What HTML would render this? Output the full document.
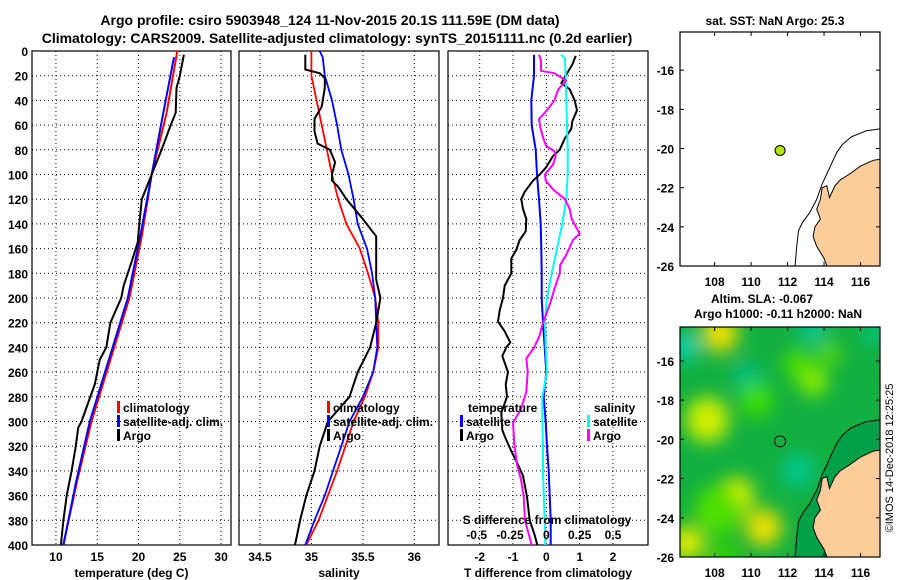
<!DOCTYPE html>
<html><head><meta charset="utf-8"><title>Argo profile</title>
<style>
html,body{margin:0;padding:0;background:#fff;}
svg{display:block;font-family:"Liberation Sans",Arial,sans-serif;font-weight:bold;}
</style></head>
<body>
<svg id="fig" width="900" height="580" viewBox="0 0 900 580" xmlns="http://www.w3.org/2000/svg">
<defs>
<filter id="blur" x="-20%" y="-20%" width="140%" height="140%"><feGaussianBlur stdDeviation="9"/></filter>
<clipPath id="clipMap2"><rect x="680" y="327" width="200" height="230"/></clipPath>
<clipPath id="clipMap1"><rect x="680" y="32" width="200" height="234"/></clipPath>
</defs>
<text x="330" y="25" font-size="14" text-anchor="middle">Argo profile: csiro 5903948_124 11-Nov-2015 20.1S 111.59E (DM data)</text>
<text x="337" y="43" font-size="14" text-anchor="middle">Climatology: CARS2009. Satellite-adjusted climatology: synTS_20151111.nc (0.2d earlier)</text>
<g id="p1"></g>
<g id="p2"></g>
<g id="p3"></g>
<g id="m1"></g>
<g id="m2"></g>
<text transform="translate(893,458) rotate(-90)" font-size="11" font-weight="normal" text-anchor="middle">©IMOS 14-Dec-2018 12:25:25</text>
</svg>
<script>
// ---- data ----
const depthTicks = [0,20,40,60,80,100,120,140,160,180,200,220,240,260,280,300,320,340,360,380,400];
const tempTicks = [10,15,20,25,30];
const salTicks = [34.5,35,35.5,36];
const salTickLabels = ["34.5","35","35.5","36"];
const dTTicks = [-2,-1,0,1,2];
const dSTicks = [-0.5,-0.25,0,0.25,0.5];
const dSTickLabels = ["-0.5","-0.25","0","0.25","0.5"];

const tClimDepth = [0,50,100,150,200,250,300,350,400];
const tClimVal = [24.7,23.4,21.6,20.4,18.9,16.6,14.3,12.5,10.9];
const tSatDepth = [5,50,100,150,200,250,300,350,400];
const tSatVal = [24.3,23.0,21.6,20.2,18.7,16.4,14.1,12.4,10.9];
const tArgoDepth = [3,20,30,50,60,80,100,110,120,140,155,170,190,200,220,240,250,270,285,300,305,320,340,360,380,400];
const tArgoVal = [25.5,25.0,24.6,24.5,23.9,22.8,21.6,21.0,20.4,20.1,19.9,19.2,18.2,17.9,16.6,16.1,15.3,14.7,13.9,13.1,12.7,12.4,11.9,11.3,10.9,10.6];

const sClimDepth = [0,20,40,60,80,100,120,140,160,180,200,220,240,260,280,300,320,340,360,380,400];
const sClimVal = [35.0,35.0,35.05,35.1,35.15,35.2,35.26,35.34,35.47,35.55,35.62,35.65,35.65,35.6,35.52,35.41,35.33,35.25,35.16,35.07,34.95];
const sSatDepth = [0,5,20,40,60,80,100,120,140,160,180,200,220,240,260,280,300,320,340,360,380,400];
const sSatVal = [35.08,35.11,35.13,35.2,35.25,35.29,35.36,35.41,35.45,35.54,35.59,35.62,35.63,35.64,35.6,35.5,35.37,35.29,35.21,35.13,35.03,34.94];
const sArgoDepth = [3,15,18,22,30,45,55,65,75,80,90,100,105,110,120,135,150,165,185,200,220,240,260,280,300,320,340,360,380,400];
const sArgoVal = [34.94,34.94,35.08,35.13,35.13,35.1,35.03,35.03,35.06,35.18,35.23,35.2,35.2,35.26,35.34,35.49,35.63,35.63,35.63,35.67,35.63,35.57,35.45,35.37,35.16,35.08,35.03,34.95,34.89,34.84];

const dTSatDepth = [3,20,40,60,80,100,120,140,160,180,200,220,240,260,280,300,320,340,360,380,400];
const dTSatVal = [-0.37,-0.37,-0.45,-0.44,-0.32,-0.28,-0.22,-0.17,-0.15,-0.14,-0.14,-0.10,-0.05,0.0,-0.08,-0.02,0.02,0.07,0.10,0.13,0.13];
const dTArgoDepth = [4,11,20,26,31,40,48,57,63,71,80,85,94,100,105,114,120,128,136,146,153,161,168,180,190,200,210,219,227,236,240,247,260,270,280,293,307,315,324,335,344,361,380,392,400];
const dTArgoVal = [0.88,0.78,0.58,0.45,0.70,0.85,0.92,0.78,0.75,0.55,0.40,0.20,0.0,-0.20,-0.40,-0.65,-0.75,-0.70,-0.60,-0.62,-0.80,-0.90,-1.05,-1.05,-1.25,-1.30,-1.40,-1.45,-1.25,-1.08,-1.20,-1.32,-1.15,-1.22,-1.18,-1.35,-1.32,-1.20,-1.05,-0.85,-0.70,-0.58,-0.50,-0.35,-0.27];
const dSSatDepth = [3,6,20,40,60,80,100,120,140,160,180,200,220,240,260,280,300,320,340,360,380,400];
const dSSatVal = [0.11,0.14,0.145,0.15,0.155,0.16,0.16,0.15,0.12,0.08,0.04,0.005,-0.01,-0.005,0.005,-0.03,-0.03,-0.025,-0.025,-0.02,-0.012,-0.008];
const dSArgoDepth = [3,8,16,18,24,31,40,48,55,62,70,77,81,85,92,100,105,112,120,128,136,148,153,165,173,180,193,204,220,230,240,249,260,276,290,301,318,335,347,361,380,392,400];
const dSArgoVal = [-0.055,-0.04,-0.04,0.06,0.15,0.09,0.06,0.005,-0.055,-0.045,-0.025,0.0,0.06,0.07,0.05,-0.01,-0.005,0.05,0.14,0.175,0.19,0.25,0.2,0.15,0.105,0.1,0.06,0.03,-0.025,-0.05,-0.09,-0.15,-0.14,-0.15,-0.19,-0.25,-0.24,-0.22,-0.19,-0.17,-0.16,-0.13,-0.11];

const lonTicks = [108,110,112,114,116];
const latTicks = [-16,-18,-20,-22,-24,-26];
const argoLon = [111.59];
const argoLat = [-20.1];

// ---- helpers ----
const NS = "http://www.w3.org/2000/svg";
function mk(parent, tag, attrs, text){
  const e = document.createElementNS(NS, tag);
  for (const k in attrs) e.setAttribute(k, attrs[k]);
  if (text !== undefined) e.textContent = text;
  parent.appendChild(e);
  return e;
}
const Y0 = 51, Y1 = 545;
const yD = d => Y0 + d * (Y1 - Y0) / 400;

function panel(g, x0, x1, dom, ticks, tickLabels, xTitle, showY){
  const xs = v => x0 + (v - dom[0]) / (dom[1] - dom[0]) * (x1 - x0);
  for (let i = 0; i < ticks.length; i++) {
    const gl = mk(g, 'line', {x1: xs(ticks[i]), x2: xs(ticks[i]), y1: Y0, y2: Y1, stroke: '#000', 'stroke-width': 1, 'stroke-dasharray': '1,3'});
    
    
    if (tickLabels) {
      const t = mk(g, 'text', {x: xs(ticks[i]), y: 561, 'font-size': 12, 'text-anchor': 'middle'}, tickLabels[i]);
      
      
    }
  }
  for (const d of depthTicks) {
    if (d > 0 && d < 400) {
      const gl = mk(g, 'line', {x1: x0, x2: x1, y1: yD(d), y2: yD(d), stroke: '#000', 'stroke-width': 1, 'stroke-dasharray': '1,3'});
      
      
    }
    if (showY) {
      const t = mk(g, 'text', {x: 28, y: yD(d) + 5, 'font-size': 12, 'text-anchor': 'end'}, String(d));
      
      
    }
  }
  const fr = mk(g, 'rect', {x: x0, y: Y0, width: x1 - x0, height: Y1 - Y0, fill: 'none', stroke: '#000', 'stroke-width': 1.2});
  
  
  if (xTitle) {
    const t = mk(g, 'text', {x: (x0 + x1) / 2, y: 577, 'font-size': 12, 'text-anchor': 'middle'}, xTitle);
    
    
  }
  return xs;
}
function line(g, xs, depths, vals, color, w, name){
  const pts = depths.map((d, i) => xs(vals[i]).toFixed(1) + ',' + yD(d).toFixed(1)).join(' ');
  const p = mk(g, 'polyline', {points: pts, fill: 'none', stroke: color, 'stroke-width': w, 'stroke-linejoin': 'round'});
  
  
}
function legend(g, x, y, color, label){
  const b = mk(g, 'rect', {x: x, y: y - 11, width: 3, height: 12, fill: color});
  
  
  const t = mk(g, 'text', {x: x + 6, y: y, 'font-size': 12}, label);
  
  
}

// ---- panel 1: temperature ----
const p1 = document.getElementById('p1');
const xT = panel(p1, 32, 231, [7.1, 31.2], tempTicks, tempTicks.map(String), 'temperature (deg C)', true);
line(p1, xT, tClimDepth, tClimVal, '#ff0000', 2, 'climatology-temperature-line');
line(p1, xT, tSatDepth, tSatVal, '#0000ff', 2, 'satellite-temperature-line');
line(p1, xT, tArgoDepth, tArgoVal, '#000000', 2, 'argo-temperature-line');
legend(p1, 117, 412, '#ff0000', 'climatology');
legend(p1, 117, 426, '#0000ff', 'satellite-adj. clim.');
legend(p1, 117, 440, '#000000', 'Argo');

// ---- panel 2: salinity ----
const p2 = document.getElementById('p2');
const xS = panel(p2, 239, 439, [34.296, 36.24], salTicks, salTickLabels, 'salinity', false);
line(p2, xS, sClimDepth, sClimVal, '#ff0000', 1.8, 'climatology-salinity-line');
line(p2, xS, sSatDepth, sSatVal, '#0000ff', 1.8, 'satellite-salinity-line');
line(p2, xS, sArgoDepth, sArgoVal, '#000000', 2, 'argo-salinity-line');
legend(p2, 327, 412, '#ff0000', 'climatology');
legend(p2, 327, 426, '#0000ff', 'satellite-adj. clim.');
legend(p2, 327, 440, '#000000', 'Argo');

// ---- panel 3: differences ----
const p3 = document.getElementById('p3');
const xDT = panel(p3, 448, 648, [-2.95, 3.05], dTTicks, dTTicks.map(String), 'T difference from climatology', false);
const xDS = v => xDT(v * 4);
line(p3, xDT, dTSatDepth, dTSatVal, '#0000ff', 2, 'satellite-t-diff-line');
line(p3, xDT, dTArgoDepth, dTArgoVal, '#000000', 2, 'argo-t-diff-line');
line(p3, xDS, dSSatDepth, dSSatVal, '#00ffff', 2, 'satellite-s-diff-line');
line(p3, xDS, dSArgoDepth, dSArgoVal, '#ff00ff', 2, 'argo-s-diff-line');
for (let i = 0; i < dSTicks.length; i++) {
  const t = mk(p3, 'text', {x: xDS(dSTicks[i]) - (dSTicks[i] < 0 ? 3 : 0), y: 539, 'font-size': 12, 'text-anchor': 'middle'}, dSTickLabels[i]);
  
  
}
{
  const t = mk(p3, 'text', {x: 547, y: 524, 'font-size': 12, 'text-anchor': 'middle'}, 'S difference from climatology');
  
  
  const t2 = mk(p3, 'text', {x: 468, y: 412, 'font-size': 12}, 'temperature');
  
  
  const t3 = mk(p3, 'text', {x: 594, y: 412, 'font-size': 12}, 'salinity');
  
  
}
legend(p3, 460, 426, '#0000ff', 'satellite');
legend(p3, 460, 440, '#000000', 'Argo');
legend(p3, 587, 426, '#00ffff', 'satellite');
legend(p3, 587, 440, '#ff00ff', 'Argo');

// ---- maps ----
const MX0 = 680, MX1 = 880, LON0 = 106.1, LON1 = 117.07;
const lonX = lo => MX0 + (lo - LON0) / (LON1 - LON0) * (MX1 - MX0);
const coast = [[117.07,-20.55],[116.7,-20.6],[116,-20.9],[115.4,-21.3],[114.9,-21.6],[114.6,-21.9],[114.3,-22.5],[114.15,-21.9],[113.9,-22.0],[113.8,-22.6],[113.6,-23.1],[113.8,-23.6],[113.5,-24.0],[113.4,-24.5],[113.6,-25.0],[114.0,-25.6],[114.2,-26.1],[117.07,-26.1]];
const shelf = [[117.07,-19.0],[116.3,-19.1],[115.5,-19.4],[115.0,-19.8],[114.7,-20.2],[114.4,-20.8],[114.2,-21.2],[113.9,-21.8],[113.6,-22.6],[113.2,-23.3],[112.8,-23.8],[112.6,-24.2],[112.5,-25.0],[112.4,-26.1]];

function map(g, y0, y1, lat0, lat1, title, bg){
  const latY = la => y0 + (lat1 - la) / (lat1 - lat0) * (y1 - y0);
  const clip = y0 < 100 ? 'url(#clipMap1)' : 'url(#clipMap2)';
  const inner = mk(g, 'g', {'clip-path': clip});
  
  
  if (bg) bg(inner, latY);
  const shelfPts = shelf.map(p => lonX(p[0]).toFixed(1) + ',' + latY(p[1]).toFixed(1));
  const sh = mk(inner, 'polyline', {points: shelfPts.join(' '), fill: 'none', stroke: '#000', 'stroke-width': 1});
  
  
  const land = mk(inner, 'polygon', {points: coast.map(p => lonX(p[0]).toFixed(1) + ',' + latY(p[1]).toFixed(1)).join(' '), fill: '#fccc9a', stroke: '#000', 'stroke-width': 1});
  
  
  const fr = mk(g, 'rect', {x: MX0, y: y0, width: MX1 - MX0, height: y1 - y0, fill: 'none', stroke: '#000', 'stroke-width': 1.2});
  
  
  for (const lo of lonTicks) {
    mk(g, 'line', {x1: lonX(lo), x2: lonX(lo), y1: y1, y2: y1 - 4, stroke: '#000'});
    mk(g, 'line', {x1: lonX(lo), x2: lonX(lo), y1: y0, y2: y0 + 4, stroke: '#000'});
    const t = mk(g, 'text', {x: lonX(lo), y: y1 + 20, 'font-size': 12, 'text-anchor': 'middle'}, String(lo));
    
    
  }
  for (const la of latTicks) {
    mk(g, 'line', {x1: MX0, x2: MX0 + 4, y1: latY(la), y2: latY(la), stroke: '#000'});
    mk(g, 'line', {x1: MX1, x2: MX1 - 4, y1: latY(la), y2: latY(la), stroke: '#000'});
    const t = mk(g, 'text', {x: 674, y: latY(la) + 5, 'font-size': 12, 'text-anchor': 'end'}, String(la));
    
    
  }
  return latY;
}

const m1 = document.getElementById('m1');
const latY1 = map(m1, 32, 266, -26, -14.05, null, null);
{
  const c = mk(m1, 'circle', {cx: lonX(argoLon[0]), cy: latY1(argoLat[0]), r: 5, fill: '#b4e614', stroke: '#000', 'stroke-width': 1});
  
  
  const t = mk(m1, 'text', {x: 775, y: 25, 'font-size': 12, 'text-anchor': 'middle'}, 'sat. SST: NaN Argo: 25.3');
  
  
}

const blobs = [[108.3,-14.6,1.0,'#f0e000'],[106.4,-15.3,0.7,'#00d0c0'],[109.8,-16.8,0.8,'#00c080'],[113.4,-17.0,0.8,'#90f000'],[114.3,-15.6,0.6,'#60e000'],[107.6,-19.0,1.2,'#d0f000'],[110.3,-18.0,0.9,'#40e000'],[112.6,-21.6,0.9,'#00c890'],[109.2,-22.9,1.0,'#d8f000'],[110.7,-24.5,1.0,'#f0e000'],[106.5,-25.3,0.9,'#e8f000'],[108.2,-23.6,1.3,'#50e000'],[113.4,-14.4,0.7,'#00c8a0'],[116.8,-14.6,0.6,'#00c890'],[108.5,-26,0.9,'#30d000'],[112.6,-16.2,0.8,'#50e000']];
const m2 = document.getElementById('m2');
const latY2 = map(m2, 327, 557, -26, -14.27, null, function(g, latY){
  const bgRect = mk(g, 'rect', {x: MX0, y: 327, width: MX1 - MX0, height: 230, fill: '#12b040'});
  
  
  const bg = mk(g, 'g', {filter: 'url(#blur)'});
  for (const b of blobs) {
    const e = mk(bg, 'ellipse', {cx: lonX(b[0]), cy: latY(b[1]), rx: b[2] * 18, ry: b[2] * 19, fill: b[3]});
    
    
  }
  const sh = mk(g, 'polygon', {points: shelf.concat([[117.07,-26.1]]).map(p => lonX(p[0]).toFixed(1) + ',' + latY(p[1]).toFixed(1)).join(' '), fill: '#00a048'});
  
  
});
{
  const c = mk(m2, 'circle', {cx: lonX(argoLon[0]), cy: latY2(argoLat[0]), r: 5.5, fill: 'none', stroke: '#000', 'stroke-width': 1});
  
  
  const t = mk(m2, 'text', {x: 762, y: 303, 'font-size': 12, 'text-anchor': 'middle'}, 'Altim. SLA: -0.067');
  
  
  const t2 = mk(m2, 'text', {x: 778, y: 318, 'font-size': 12, 'text-anchor': 'middle'}, 'Argo h1000: -0.11 h2000: NaN');
  
  
}
</script>
</body></html>
